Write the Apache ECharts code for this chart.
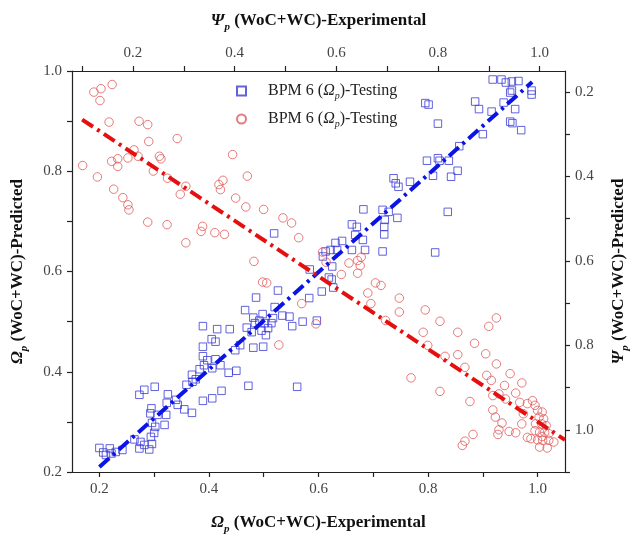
<!DOCTYPE html>
<html>
<head>
<meta charset="utf-8">
<script src="https://cdn.jsdelivr.net/npm/echarts@6/dist/echarts.min.js"></script>
<style>
  html, body { margin: 0; padding: 0; background: #fff; }
  #chart { width: 639px; height: 544px; }
</style>
</head>
<body>
<div id="chart"></div>
<script>
// Ω_p testing set: experimental (bottom axis) vs predicted (left axis)
const omegaExp = [
  0.389,0.415,0.438,0.405,0.412,0.389,0.389,0.397,0.412,0.391,0.406,0.421,0.383,0.369,0.376,0.359,0.370,0.436,0.450,0.423,
  0.406,0.389,0.273,0.282,0.301,0.325,0.323,0.340,0.343,0.355,0.369,0.295,0.293,0.306,0.322,0.296,0.302,0.319,0.300,0.294,
  0.264,0.275,0.282,0.291,0.296,0.273,0.200,0.207,0.219,0.222,0.230,0.242,0.212,0.448,0.472,0.561,0.457,0.481,0.499,0.469,
  0.478,0.484,0.492,0.502,0.496,0.504,0.508,0.514,0.517,0.498,0.481,0.466,0.486,0.520,0.526,0.534,0.547,0.552,0.571,0.597,
  0.583,0.606,0.584,0.519,0.608,0.613,0.622,0.625,0.619,0.624,0.627,0.631,0.634,0.643,0.661,0.661,0.670,0.667,0.681,0.685,
  0.717,0.682,0.717,0.721,0.720,0.720,0.728,0.744,0.737,0.741,0.746,0.767,0.798,0.809,0.818,0.821,0.838,0.842,0.854,0.836,
  0.813,0.818,0.795,0.801,0.857,0.886,0.893,0.900,0.916,0.918,0.934,0.942,0.953,0.965,0.950,0.953,0.938,0.959,0.950,0.954,
  0.970,0.989,0.989
];
const omegaPred = [
  0.491,0.485,0.485,0.465,0.460,0.450,0.431,0.423,0.425,0.413,0.407,0.413,0.405,0.394,0.385,0.374,0.380,0.398,0.402,0.362,
  0.347,0.342,0.354,0.364,0.370,0.355,0.338,0.344,0.334,0.325,0.318,0.327,0.317,0.314,0.314,0.298,0.290,0.294,0.278,0.270,
  0.265,0.260,0.254,0.245,0.256,0.247,0.248,0.239,0.247,0.237,0.240,0.244,0.234,0.443,0.372,0.370,0.453,0.448,0.450,0.488,
  0.479,0.497,0.502,0.497,0.482,0.473,0.487,0.497,0.507,0.515,0.508,0.523,0.548,0.529,0.562,0.512,0.510,0.491,0.500,0.502,
  0.547,0.560,0.604,0.676,0.630,0.640,0.643,0.610,0.588,0.584,0.568,0.657,0.643,0.661,0.643,0.694,0.689,0.673,0.663,0.643,
  0.640,0.724,0.723,0.703,0.689,0.674,0.719,0.707,0.786,0.776,0.769,0.779,0.821,0.791,0.826,0.821,0.821,0.789,0.801,0.719,
  0.638,0.895,0.936,0.933,0.850,0.939,0.924,0.874,0.919,0.983,0.983,0.977,0.979,0.980,0.957,0.961,0.937,0.924,0.899,0.896,
  0.882,0.961,0.953
];

// Ψ_p testing set: experimental (top axis) vs predicted (right axis, reversed)
const psiExp = [
  0.123,0.137,0.159,0.135,0.153,0.212,0.229,0.231,0.287,0.101,0.158,0.170,0.170,0.190,0.202,0.210,0.252,0.255,0.240,0.268,
  0.130,0.162,0.180,0.190,0.192,0.229,0.267,0.304,0.293,0.337,0.334,0.361,0.380,0.304,0.377,0.369,0.372,0.396,0.402,0.425,
  0.422,0.457,0.495,0.512,0.526,0.438,0.455,0.463,0.532,0.560,0.487,0.573,0.580,0.625,0.642,0.649,0.647,0.642,0.610,0.677,
  0.688,0.662,0.668,0.697,0.724,0.724,0.775,0.804,0.771,0.780,0.839,0.814,0.839,0.853,0.747,0.804,0.863,0.872,0.894,0.900,
  0.915,0.915,0.896,0.905,0.908,0.931,0.942,0.965,0.953,0.933,0.920,0.908,0.913,0.926,0.920,0.940,0.953,0.965,0.961,0.968,
  0.976,0.986,0.991,0.996,1.005,0.999,1.008,0.992,1.004,1.013,0.991,1.000,1.010,1.018,0.983,0.996,1.006,1.018,1.028,1.000,
  1.015,1.005,0.976,0.869,0.853,0.848,0.918
];
const psiPred = [
  0.200,0.192,0.182,0.220,0.271,0.269,0.277,0.317,0.310,0.374,0.364,0.358,0.376,0.356,0.337,0.352,0.352,0.358,0.387,0.404,
  0.401,0.430,0.450,0.467,0.479,0.508,0.514,0.423,0.442,0.518,0.530,0.533,0.537,0.557,0.409,0.419,0.431,0.348,0.451,0.399,
  0.472,0.478,0.498,0.510,0.545,0.601,0.650,0.652,0.701,0.749,0.799,0.579,0.603,0.605,0.599,0.591,0.611,0.629,0.632,0.652,
  0.658,0.676,0.701,0.741,0.688,0.721,0.716,0.743,0.769,0.800,0.769,0.826,0.822,0.852,0.877,0.909,0.933,0.795,0.820,0.755,
  0.735,0.844,0.871,0.883,0.919,0.895,0.867,0.889,0.913,0.927,0.915,0.953,0.970,0.984,1.000,1.004,1.007,0.986,0.935,0.962,
  0.938,0.931,0.942,0.954,0.958,0.970,0.974,0.986,0.986,0.990,1.002,1.006,1.006,1.009,1.021,1.024,1.025,1.025,1.029,1.041,
  1.043,1.016,1.018,1.011,1.027,1.037,1.011
];

// Fitted trend lines (end points in axis units)
const omegaFitX = [0.20, 0.99];
const omegaFitY = [0.21, 0.978];
const psiFitX = [0.10, 1.05];
const psiFitY = [0.265, 1.024];

// Tick and label positions
const bottomTicks = [0.2,0.3,0.4,0.5,0.6,0.7,0.8,0.9,1.0];
const leftTicks = [0.2,0.3,0.4,0.5,0.6,0.7,0.8,0.9,1.0];
const topTicks = [0.1,0.2,0.3,0.4,0.5,0.6,0.7,0.8,0.9,1.0];
const rightTicks = [0.2,0.3,0.4,0.5,0.6,0.7,0.8,0.9,1.0,1.1];
const tickLabels = [0.2,0.4,0.6,0.8,1.0];

const zip = (xs, ys) => xs.map((x, i) => [x, ys[i]]);

const SERIF = '"Liberation Serif", "Times New Roman", serif';

function nameRich() {
  return {
    g: { fontFamily: SERIF, fontSize: 17, fontWeight: 'bold', fontStyle: 'italic', color: '#111', lineHeight: 24, verticalAlign: 'middle' },
    s: { fontFamily: SERIF, fontSize: 11, fontWeight: 'bold', fontStyle: 'italic', color: '#111', lineHeight: 14, verticalAlign: 'bottom' },
    t: { fontFamily: SERIF, fontSize: 17, fontWeight: 'bold', color: '#111', lineHeight: 24, verticalAlign: 'middle' }
  };
}

function axisBase(ticks) {
  return {
    type: 'value',
    axisLine: { show: true, onZero: false, lineStyle: { color: '#222', width: 1.2 } },
    axisTick: { show: true, inside: false, length: 5, customValues: ticks, lineStyle: { color: '#222', width: 1.2 } },
    axisLabel: {
      show: true, customValues: tickLabels, margin: 10,
      fontFamily: SERIF, fontSize: 15, color: '#444',
      formatter: v => v.toFixed(1)
    },
    splitLine: { show: false },
    nameLocation: 'middle',
    nameTextStyle: { rich: nameRich() }
  };
}

const chart = echarts.init(document.getElementById('chart'), null, { renderer: 'canvas' });

chart.setOption({
  backgroundColor: '#fff',
  animation: false,
  grid: { left: 72, right: 68, top: 71, bottom: 72, containLabel: false },
  xAxis: [
    Object.assign(axisBase(bottomTicks), {
      position: 'bottom', min: 0.15, max: 1.05,
      name: '{g|\u03A9}{s|p}{t| (WoC+WC)-Experimental}', nameGap: 39
    }),
    Object.assign(axisBase(topTicks), {
      position: 'top', min: 0.08, max: 1.05,
      name: '{g|\u03A8}{s|p}{t| (WoC+WC)-Experimental}', nameGap: 38
    })
  ],
  yAxis: [
    Object.assign(axisBase(leftTicks), {
      position: 'left', min: 0.2, max: 1.0,
      name: '{g|\u03A9}{s|p}{t| (WoC+WC)-Predicted}', nameGap: 42, nameRotate: 90
    }),
    Object.assign(axisBase(rightTicks), {
      position: 'right', min: 0.15, max: 1.1, inverse: true,
      name: '{g|\u03A8}{s|p}{t| (WoC+WC)-Predicted}', nameGap: 42, nameRotate: 90
    })
  ],
  legend: {
    orient: 'vertical',
    left: 231, top: 78,
    itemWidth: 9, itemHeight: 9, itemGap: 10,
    data: ['omega', 'psi'],
    formatter: () => '{a|BPM 6 (}{g|\u03A9}{s|p}{a|)-Testing}',
    textStyle: {
      padding: [0, 0, 0, 17],
      rich: {
        a: { fontFamily: SERIF, fontSize: 16, color: '#222', lineHeight: 20, verticalAlign: 'middle' },
        g: { fontFamily: SERIF, fontSize: 16, fontStyle: 'italic', color: '#222', lineHeight: 20, verticalAlign: 'middle' },
        s: { fontFamily: SERIF, fontSize: 10, fontStyle: 'italic', color: '#222', lineHeight: 12, verticalAlign: 'bottom' }
      }
    }
  },
  series: [
    {
      name: 'omega', type: 'scatter', xAxisIndex: 0, yAxisIndex: 0,
      symbol: 'rect', symbolSize: 7.5,
      itemStyle: { color: 'rgba(0,0,0,0)', borderColor: '#3b3bd6', borderWidth: 1 },
      data: zip(omegaExp, omegaPred), z: 3
    },
    {
      name: 'psi', type: 'scatter', xAxisIndex: 1, yAxisIndex: 1,
      symbol: 'circle', symbolSize: 8.5,
      itemStyle: { color: 'rgba(0,0,0,0)', borderColor: '#e05a5a', borderWidth: 1 },
      data: zip(psiExp, psiPred), z: 3
    },
    {
      name: 'omegaFit', type: 'line', xAxisIndex: 0, yAxisIndex: 0,
      showSymbol: false, symbol: 'none', silent: true,
      lineStyle: { color: '#0a14e6', width: 4, type: [13, 5, 3, 5], cap: 'butt' },
      data: zip(omegaFitX, omegaFitY), z: 4
    },
    {
      name: 'psiFit', type: 'line', xAxisIndex: 1, yAxisIndex: 1,
      showSymbol: false, symbol: 'none', silent: true,
      lineStyle: { color: '#e60f0f', width: 4, type: [13, 5, 3, 5], cap: 'butt' },
      data: zip(psiFitX, psiFitY), z: 4
    }
  ]
});
</script>
</body>
</html>
